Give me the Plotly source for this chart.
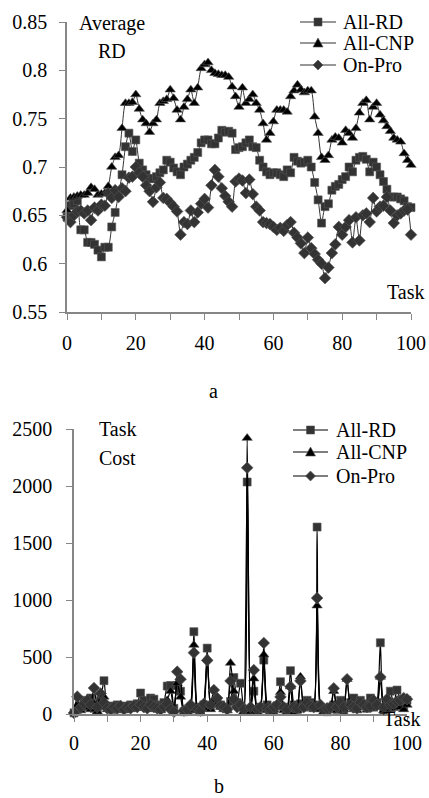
import plotly.graph_objects as go

tasks = list(range(0, 101))

# ---- Chart a: Average RD ----
rd_all_rd = [0.648, 0.660, 0.662, 0.665, 0.635, 0.635, 0.622, 0.622, 0.620, 0.614,
             0.607, 0.617, 0.617, 0.638, 0.653, 0.672, 0.692, 0.721, 0.735, 0.716,
             0.728, 0.704, 0.697, 0.692, 0.688, 0.688, 0.690, 0.694, 0.697, 0.707,
             0.705, 0.699, 0.695, 0.692, 0.700, 0.703, 0.707, 0.710, 0.715, 0.725,
             0.728, 0.728, 0.724, 0.724, 0.730, 0.738, 0.736, 0.737, 0.735, 0.718,
             0.720, 0.721, 0.725, 0.728, 0.721, 0.720, 0.707, 0.700, 0.695, 0.692,
             0.694, 0.694, 0.692, 0.690, 0.697, 0.694, 0.710, 0.706, 0.704, 0.705,
             0.707, 0.700, 0.684, 0.666, 0.642, 0.659, 0.662, 0.676, 0.680, 0.682,
             0.687, 0.690, 0.700, 0.695, 0.707, 0.710, 0.711, 0.708, 0.695, 0.705,
             0.700, 0.692, 0.685, 0.677, 0.669, 0.669, 0.669, 0.667, 0.665, 0.659,
             0.658]
rd_all_cnp = [0.655, 0.668, 0.669, 0.670, 0.671, 0.671, 0.673, 0.679, 0.677, 0.671,
              0.672, 0.673, 0.680, 0.700, 0.710, 0.712, 0.740, 0.766, 0.766, 0.767,
              0.775, 0.760, 0.749, 0.745, 0.736, 0.745, 0.749, 0.766, 0.768, 0.770,
              0.780, 0.771, 0.759, 0.749, 0.762, 0.770, 0.780, 0.766, 0.782, 0.802,
              0.806, 0.808, 0.800, 0.797, 0.796, 0.795, 0.795, 0.793, 0.783, 0.773,
              0.762, 0.782, 0.766, 0.770, 0.775, 0.766, 0.759, 0.745, 0.728, 0.735,
              0.747, 0.759, 0.759, 0.759, 0.757, 0.773, 0.779, 0.785, 0.780, 0.777,
              0.779, 0.779, 0.752, 0.735, 0.710, 0.707, 0.712, 0.728, 0.731, 0.730,
              0.725, 0.738, 0.735, 0.730, 0.740, 0.756, 0.766, 0.769, 0.749, 0.762,
              0.766, 0.754, 0.748, 0.742, 0.737, 0.730, 0.728, 0.726, 0.714, 0.707,
              0.702]
rd_on_pro = [0.648, 0.643, 0.650, 0.654, 0.655, 0.652, 0.655, 0.645, 0.658, 0.655,
             0.661, 0.660, 0.673, 0.668, 0.676, 0.669, 0.678, 0.675, 0.689, 0.690,
             0.700, 0.694, 0.690, 0.681, 0.675, 0.664, 0.679, 0.684, 0.668, 0.667,
             0.663, 0.659, 0.654, 0.630, 0.643, 0.641, 0.655, 0.643, 0.653, 0.662,
             0.667, 0.658, 0.681, 0.697, 0.690, 0.678, 0.670, 0.664, 0.659, 0.685,
             0.688, 0.686, 0.673, 0.687, 0.672, 0.659, 0.655, 0.643, 0.642, 0.641,
             0.638, 0.635, 0.637, 0.634, 0.640, 0.643, 0.632, 0.627, 0.621, 0.611,
             0.627, 0.616, 0.610, 0.604, 0.600, 0.585, 0.596, 0.611, 0.620, 0.638,
             0.630, 0.638, 0.645, 0.622, 0.648, 0.624, 0.650, 0.652, 0.643, 0.668,
             0.654, 0.659, 0.660, 0.669, 0.655, 0.642, 0.650, 0.652, 0.655, 0.656,
             0.630]

# ---- Chart b: Task Cost ----
cost_all_rd = [10, 40, 60, 120, 80, 140, 50, 30, 120, 292,
               60, 70, 40, 80, 60, 70, 50, 80, 60, 90,
               184, 120, 60, 140, 130, 80, 70, 100, 245, 250,
               50, 250, 200, 20, 30, 60, 722, 60, 20, 80,
               578, 60, 100, 90, 80, 60, 50, 110, 320, 100,
               270, 30, 2035, 40, 200, 30, 60, 473, 80, 40,
               30, 70, 283, 60, 50, 380, 80, 40, 90, 60,
               120, 100, 80, 1640, 60, 30, 20, 60, 80, 40,
               120, 30, 70, 100, 140, 60, 120, 90, 50, 140,
               60, 100, 625, 30, 50, 200, 90, 210, 120, 60,
               120]
cost_all_cnp = [20, 80, 30, 50, 60, 40, 90, 20, 60, 150,
                40, 50, 30, 40, 60, 30, 50, 40, 60, 70,
                50, 60, 40, 70, 50, 40, 30, 60, 120, 200,
                40, 270, 150, 10, 20, 30, 605, 30, 10, 50,
                490, 40, 120, 90, 60, 40, 30, 447, 200, 80,
                60, 20, 2420, 20, 310, 20, 40, 520, 30, 20,
                40, 60, 190, 30, 20, 240, 10, 30, 327, 50,
                80, 60, 40, 950, 40, 20, 30, 40, 200, 30,
                60, 40, 305, 60, 40, 30, 80, 60, 40, 50,
                70, 60, 325, 30, 60, 40, 50, 80, 60, 40,
                80]
cost_on_pro = [10, 152, 60, 90, 120, 80, 228, 60, 180, 100,
               50, 40, 60, 50, 70, 40, 60, 50, 70, 60,
               80, 60, 50, 80, 60, 50, 40, 60, 90, 40,
               20, 371, 305, 30, 40, 80, 538, 40, 30, 90,
               470, 80, 210, 140, 70, 60, 40, 290, 130, 60,
               80, 40, 2160, 60, 385, 40, 60, 623, 50, 40,
               60, 80, 150, 60, 40, 240, 60, 50, 290, 60,
               100, 70, 60, 1017, 80, 40, 50, 60, 225, 60,
               100, 60, 305, 80, 60, 50, 100, 80, 60, 70,
               120, 80, 325, 60, 130, 80, 90, 110, 120, 140,
               130]

series_names = ["All-RD", "All-CNP", "On-Pro"]
top_ticks = [0, 20, 40, 60, 80, 100]

W, H = 429, 798
FONT = "Liberation Serif"
AXC = "#868686"

styles = [
    dict(symbol="square", size=8, color="#333333",
         path="M-4,-4 L4,-4 L4,4 L-4,4 Z"),
    dict(symbol="triangle-up", size=9, color="#000000",
         path="M-5,-4 L5,-4 L0,5 Z"),
    dict(symbol="diamond", size=9, color="#333333",
         path="M0,-5 L5,0 L0,5 L-5,0 Z"),
]

fig = go.Figure()

for name, vals, st in zip(series_names, [rd_all_rd, rd_all_cnp, rd_on_pro], styles):
    fig.add_trace(go.Scatter(
        x=tasks, y=vals, name=name, mode="lines+markers", showlegend=False,
        line=dict(color="#333333", width=1, shape="spline", smoothing=0.6),
        marker=dict(symbol=st["symbol"], size=st["size"], color=st["color"],
                    line=dict(width=0.6, color="#555555")),
        xaxis="x", yaxis="y", cliponaxis=False))

for name, vals, st in zip(series_names, [cost_all_rd, cost_all_cnp, cost_on_pro], styles):
    fig.add_trace(go.Scatter(
        x=tasks, y=vals, name=name, mode="lines+markers", showlegend=False,
        line=dict(color="#000000", width=1.2, shape="spline", smoothing=0.6),
        marker=dict(symbol=st["symbol"], size=st["size"], color=st["color"],
                    line=dict(width=0.6, color="#555555")),
        xaxis="x2", yaxis="y2", cliponaxis=False))

axis_common = dict(showgrid=False, zeroline=False, showline=True, linecolor=AXC,
                   linewidth=1.5, ticks="outside", tickcolor=AXC, ticklen=6,
                   tickwidth=1.2, automargin=False,
                   tickfont=dict(family=FONT, size=20, color="#000"))
minor = dict(dtick=10, ticks="outside", ticklen=6, tickcolor=AXC, tickwidth=1.2)

fig.update_layout(
    width=W, height=H, paper_bgcolor="white", plot_bgcolor="white",
    margin=dict(l=0, r=0, t=0, b=0, pad=0, autoexpand=False),
    font=dict(family=FONT, size=20, color="#000"),
    showlegend=False,
    xaxis=dict(domain=[67 / W, 411 / W], range=[0, 100], tickvals=top_ticks,
               minor=minor, ticklabelstandoff=6, anchor="y", **axis_common),
    yaxis=dict(domain=[(H - 312) / H, (H - 22) / H], range=[0.55, 0.85], dtick=0.05,
               tickformat=".2~f", ticklabelstandoff=8, anchor="x", **axis_common),
    xaxis2=dict(domain=[74 / W, 407 / W], range=[0, 100], tickvals=top_ticks,
                minor=minor, ticklabelstandoff=4, anchor="y2", **axis_common),
    yaxis2=dict(domain=[(H - 714) / H, (H - 429) / H], range=[0, 2500], dtick=500,
                ticklabelstandoff=10, anchor="x2", **axis_common),
)

def ann(text, x, y, xanchor="left", yanchor="middle"):
    fig.add_annotation(text=text, x=x / W, y=1 - y / H, xref="paper", yref="paper",
                       showarrow=False, xanchor=xanchor, yanchor=yanchor,
                       font=dict(family=FONT, size=20, color="#000"))

ann("Average", 112, 23, xanchor="center")
ann("RD", 112, 51, xanchor="center")
ann("Task", 405, 292, xanchor="center")
ann("a", 213, 391, xanchor="center")
ann("Task", 97, 429)
ann("Cost", 97, 458)
ann("Task", 401, 719, xanchor="center")
ann("b", 219, 786, xanchor="center")

# manual legends
def legend(rows, x_line0, x_line1, x_text, line_color):
    for (name, ypix), st in zip(rows, styles):
        yy = 1 - ypix / H
        fig.add_shape(type="line", xref="paper", yref="paper",
                      x0=x_line0 / W, x1=x_line1 / W, y0=yy, y1=yy,
                      line=dict(color=line_color, width=1.2))
        fig.add_shape(type="path", xref="paper", yref="paper",
                      xsizemode="pixel", ysizemode="pixel",
                      xanchor=(x_line0 + x_line1) / 2 / W, yanchor=yy,
                      path=st["path"], fillcolor=st["color"],
                      line=dict(color="#555555", width=0.6))
        ann(name, x_text, ypix)

legend(list(zip(series_names, [22, 43, 65])), 300, 336, 341, "#333333")
legend(list(zip(series_names, [430, 452, 476])), 293, 328, 334, "#000000")

fig.write_html(
    "out.html",
    config={"displayModeBar": False},
    post_script="document.body.style.margin='0';document.body.style.overflow='hidden';",
)
